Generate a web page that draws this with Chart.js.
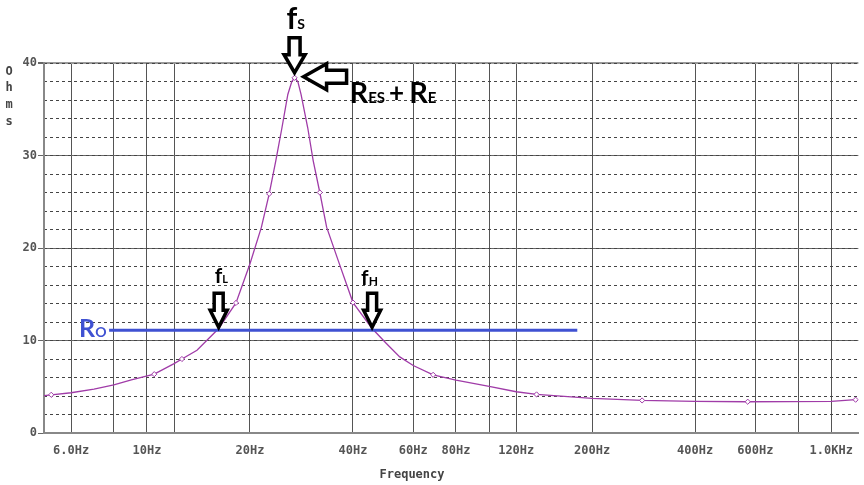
<!DOCTYPE html>
<html>
<head>
<meta charset="utf-8">
<script src="https://cdn.jsdelivr.net/npm/chart.js@4/dist/chart.umd.min.js"></script>
<style>
  body { margin: 0; background: #fff; }
  canvas { display: block; }
</style>
</head>
<body>
<canvas id="myChart" width="864" height="485"></canvas>
<script>
// impedance curve (Hz, ohms)
var freqs = [5.0, 5.25, 6.0, 7.0, 8.0, 9.0, 10.5, 12.0, 12.65, 14.0, 16.2, 18.2, 20.0, 21.6, 22.76, 23.8, 24.8, 25.8, 26.5, 27.0, 27.6, 28.2, 29.5, 30.6, 32.0, 33.5, 36.2, 40.0, 45.5, 50, 54.8, 60, 68.6, 80, 100, 120, 137.6, 200, 280, 400, 570, 1000, 1178, 1200];
var ohms  = [4.05, 4.13, 4.35, 4.75, 5.2, 5.75, 6.36, 7.5, 8.0, 8.95, 11.3, 14.06, 18.3, 22.25, 25.86, 29.45, 33.0, 36.6, 38.0, 38.4, 38.0, 36.6, 33.0, 29.45, 26.0, 22.25, 18.66, 14.1, 11.3, 9.7, 8.23, 7.3, 6.29, 5.72, 5.05, 4.46, 4.17, 3.74, 3.52, 3.42, 3.38, 3.42, 3.6, 3.6];
// little diamond markers sit on these samples
var markerFreqs = [5.25, 10.5, 12.65, 18.2, 22.76, 27.0, 32.0, 40.0, 68.6, 137.6, 280, 570, 1178];

// Ro line
var roFreqs = [7.75, 181];
var roValue = 11.1;

// x grid lines and their labels
var xTicks = [6, 8, 10, 12, 20, 40, 60, 80, 100, 120, 200, 400, 600, 800, 1000];
var xTickLabels = ['6.0Hz', '', '10Hz', '', '20Hz', '40Hz', '60Hz', '80Hz', '', '120Hz', '200Hz', '400Hz', '600Hz', '', '1.0KHz'];

// annotation anchors (Hz, ohms)
var fsPoint = [27.0, 38.3];
var flPoint = [16.2, roValue];
var fhPoint = [45.5, roValue];

var monoFont = 'bold 12px "DejaVu Sans Mono", monospace';
var gridColor = '#555';
var curveColor = '#a03ca8';
var roColor = '#3f51d2';

var curveData = freqs.map(function (f, i) { return {x: f, y: ohms[i]}; });
var roData = roFreqs.map(function (f) { return {x: f, y: roValue}; });

/******************************************************/
// hollow block arrow, tip at (tx,ty), pointing down when angle = 0
function drawArrow(ctx, tx, ty, angle, sw, sl, hw, hl) {
    ctx.save();
    ctx.translate(tx, ty);
    ctx.rotate(angle);
    ctx.beginPath();
    ctx.moveTo(0, 0);
    ctx.lineTo(hw, -hl);
    ctx.lineTo(sw, -hl);
    ctx.lineTo(sw, -hl - sl);
    ctx.lineTo(-sw, -hl - sl);
    ctx.lineTo(-sw, -hl);
    ctx.lineTo(-hw, -hl);
    ctx.closePath();
    ctx.fillStyle = '#fff';
    ctx.fill();
    ctx.lineWidth = 3.5;
    ctx.lineJoin = 'miter';
    ctx.strokeStyle = '#000';
    ctx.stroke();
    ctx.restore();
}

// big letter plus small subscript, returns end x
function drawSub(ctx, x, y, big, bigSize, small, smallSize, color) {
    ctx.fillStyle = color;
    ctx.textBaseline = 'alphabetic';
    ctx.textAlign = 'left';
    ctx.font = 'bold ' + bigSize + 'px Lato, "Open Sans", sans-serif';
    ctx.fillText(big, x, y);
    var w = ctx.measureText(big).width;
    ctx.font = 'bold ' + smallSize + 'px Lato, "Open Sans", sans-serif';
    ctx.fillText(small, x + w, y);
    return x + w + ctx.measureText(small).width;
}

var annotations = {
    id: 'annotations',
    afterDatasetsDraw: function (chart) {
        var ctx = chart.ctx;
        var xs = chart.scales.x, ys = chart.scales.y;

        // fs
        var fx = xs.getPixelForValue(fsPoint[0]);
        var fy = ys.getPixelForValue(fsPoint[1]);
        drawArrow(ctx, fx, fy - 6, 0, 5.5, 17, 10.5, 18);
        drawSub(ctx, fx - 8, 29, 'f', 30, 'S', 14, '#000');

        // RES + RE
        drawArrow(ctx, fx + 9, fy - 2, Math.PI / 2, 6.5, 20, 13, 23);
        var ex = drawSub(ctx, fx + 55, 103, 'R', 29, 'ES', 15, '#000');
        ctx.font = 'bold 26px Lato, "Open Sans", sans-serif';
        ctx.fillText('+', ex + 4, 102);
        ex = ex + 4 + ctx.measureText('+').width + 5;
        drawSub(ctx, ex, 103, 'R', 29, 'E', 15, '#000');

        // fL
        var lx = xs.getPixelForValue(flPoint[0]);
        var ly = ys.getPixelForValue(flPoint[1]);
        drawArrow(ctx, lx, ly - 3, 0, 4.5, 17, 8.5, 17);
        drawSub(ctx, lx - 4, 283, 'f', 21, 'L', 11, '#000');

        // fH
        var hx = xs.getPixelForValue(fhPoint[0]);
        var hy = ys.getPixelForValue(fhPoint[1]);
        drawArrow(ctx, hx, hy - 3, 0, 4.5, 17, 8.5, 17);
        drawSub(ctx, hx - 11, 285, 'f', 21, 'H', 12, '#000');

        // Ro label
        var rx = xs.getPixelForValue(roFreqs[0]);
        var ry = ys.getPixelForValue(roValue);
        drawSub(ctx, rx - 30, ry + 7, 'R', 25, 'O', 14, roColor);

        // axis titles
        ctx.fillStyle = '#444';
        ctx.font = monoFont;
        ctx.textAlign = 'center';
        ctx.textBaseline = 'middle';
        ctx.fillText('Frequency', 412, 475);
        var letters = ['O', 'h', 'm', 's'];
        var ly2 = [72, 88, 105, 122];
        for (var i = 0; i < letters.length; i++) {
            ctx.fillText(letters[i], 9, ly2[i]);
        }
    }
};

/******************************************************/
var ctx = document.getElementById('myChart').getContext('2d');
var myChart = new Chart(ctx, {
    type: 'line',
    data: {
        datasets: [
            {
                label: 'Ro',
                data: roData,
                borderColor: roColor,
                borderWidth: 3,
                pointRadius: 0,
                order: 0
            }, {
                label: 'Z',
                data: curveData,
                borderColor: curveColor,
                borderWidth: 1.3,
                tension: 0,
                pointStyle: 'rectRot',
                pointRadius: function (c) {
                    var p = c.raw;
                    return (p && markerFreqs.indexOf(p.x) >= 0) ? 2.6 : 0;
                },
                pointBorderWidth: 1,
                pointBorderColor: curveColor,
                pointBackgroundColor: '#fff',
                order: 1
            }]
    },
    options: {
        responsive: false,
        animation: false,
        events: [],
        layout: { padding: { top: 63, right: 2, left: 0, bottom: 0 } },
        plugins: { legend: { display: false }, tooltip: { enabled: false } },
        scales: {
            x: {
                type: 'logarithmic',
                min: 5,
                max: 1200,
                afterBuildTicks: function (scale) {
                    scale.ticks = xTicks.map(function (v) { return {value: v}; });
                },
                afterFit: function (scale) { scale.height = 52; },
                ticks: {
                    autoSkip: false,
                    maxRotation: 0,
                    padding: 11,
                    color: '#555',
                    font: { family: '"DejaVu Sans Mono", monospace', size: 12, weight: 'bold' },
                    callback: function (value, index) { return xTickLabels[index]; }
                },
                grid: { color: gridColor, lineWidth: 1, drawTicks: false },
                border: { color: '#888', width: 2 }
            },
            y: {
                position: 'left',
                min: 0,
                max: 40,
                afterFit: function (scale) { scale.width = 44; },
                ticks: {
                    stepSize: 10,
                    padding: 1,
                    color: '#555',
                    font: { family: '"DejaVu Sans Mono", monospace', size: 12, weight: 'bold' }
                },
                grid: {
                    color: function (c) { return c.tick && c.tick.value === 40 ? '#999' : '#666'; },
                    lineWidth: function (c) { return c.tick && c.tick.value === 40 ? 2 : 1; },
                    drawTicks: true,
                    tickLength: 6,
                    tickColor: '#666'
                },
                border: { color: '#888', width: 2 }
            },
            y2: {
                position: 'right',
                min: 0,
                max: 40,
                afterFit: function (scale) { scale.width = 0; },
                ticks: { display: false, stepSize: 2 },
                grid: { color: '#444', lineWidth: 1, drawTicks: false },
                border: { display: false, dash: [3, 3] }
            }
        }
    },
    plugins: [annotations]
});
</script>
</body>
</html>
